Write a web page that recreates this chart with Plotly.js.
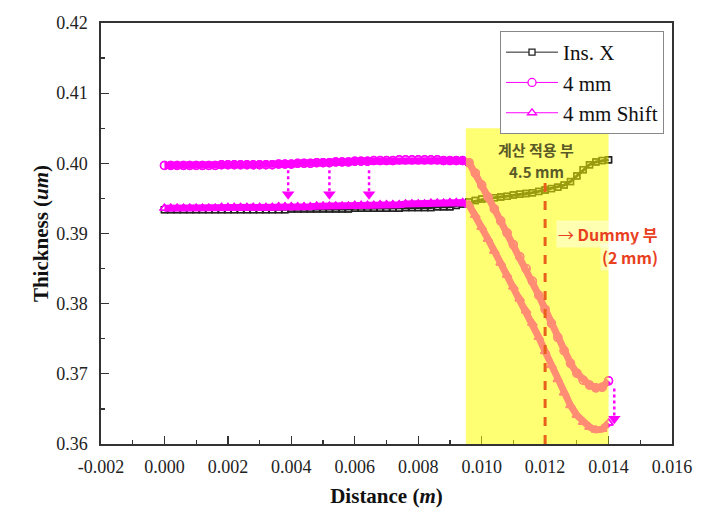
<!DOCTYPE html>
<html>
<head>
<meta charset="utf-8">
<script src="https://cdn.plot.ly/plotly-3.0.1.min.js"></script>
<style>html,body{margin:0;padding:0;background:#fff;}#chart{width:710px;height:517px;}</style>
</head>
<body>
<div id="chart"></div>
<script>
// Distance (m), step 0.0002 from 0 to 0.014
const distance = [
0.0000,0.0002,0.0004,0.0006,0.0008,0.0010,0.0012,0.0014,0.0016,0.0018,
0.0020,0.0022,0.0024,0.0026,0.0028,0.0030,0.0032,0.0034,0.0036,0.0038,
0.0040,0.0042,0.0044,0.0046,0.0048,0.0050,0.0052,0.0054,0.0056,0.0058,
0.0060,0.0062,0.0064,0.0066,0.0068,0.0070,0.0072,0.0074,0.0076,0.0078,
0.0080,0.0082,0.0084,0.0086,0.0088,0.0090,0.0092,0.0094,0.0096,0.0098,
0.0100,0.0102,0.0104,0.0106,0.0108,0.0110,0.0112,0.0114,0.0116,0.0118,
0.0120,0.0122,0.0124,0.0126,0.0128,0.0130,0.0132,0.0134,0.0136,0.0138,
0.0140];

const insX = [
0.3934,0.3934,0.3934,0.3934,0.3934,0.3934,0.3934,0.3934,0.3934,0.3934,
0.3934,0.3934,0.3934,0.3934,0.3934,0.3934,0.3934,0.3934,0.3934,0.3934,
0.3935,0.3935,0.3935,0.3935,0.3935,0.3935,0.3935,0.3935,0.3935,0.3935,
0.3936,0.3936,0.3936,0.3936,0.3936,0.3936,0.3936,0.3936,0.3937,0.3937,
0.3937,0.3937,0.3937,0.3938,0.3938,0.3938,0.3940,0.3942,0.3945,0.3947,
0.3949,0.3950,0.3951,0.3952,0.3953,0.3955,0.3956,0.3957,0.3958,0.3960,
0.3962,0.3964,0.3966,0.3969,0.3974,0.3982,0.3991,0.3998,0.4002,0.4004,
0.4005];

const mm4 = [
0.3997,0.3997,0.3997,0.3997,0.3997,0.3997,0.3997,0.3997,0.3997,0.3998,
0.3998,0.3998,0.3998,0.3998,0.3998,0.3998,0.3998,0.3998,0.3999,0.3999,
0.3999,0.4000,0.4000,0.4000,0.4001,0.4001,0.4001,0.4002,0.4002,0.4002,
0.4003,0.4003,0.4003,0.4004,0.4004,0.4004,0.4004,0.4005,0.4005,0.4005,
0.4005,0.4005,0.4005,0.4005,0.4004,0.4004,0.4004,0.4004,0.4001,0.3986,
0.3969,0.3952,0.3935,0.3918,0.3901,0.3884,0.3867,0.3850,0.3832,0.3812,
0.3792,0.3772,0.3752,0.3733,0.3715,0.3701,0.3691,0.3684,0.3680,0.3681,
0.3690];

const mm4Shift = [
0.3936,0.3936,0.3936,0.3936,0.3936,0.3936,0.3936,0.3936,0.3936,0.3937,
0.3937,0.3937,0.3937,0.3937,0.3937,0.3937,0.3937,0.3937,0.3938,0.3938,
0.3938,0.3938,0.3938,0.3938,0.3939,0.3939,0.3939,0.3939,0.3939,0.3939,
0.3940,0.3940,0.3940,0.3940,0.3941,0.3941,0.3941,0.3941,0.3942,0.3942,
0.3942,0.3942,0.3943,0.3943,0.3943,0.3944,0.3944,0.3944,0.3941,0.3926,
0.3909,0.3892,0.3875,0.3858,0.3841,0.3824,0.3807,0.3790,0.3772,0.3752,
0.3732,0.3712,0.3692,0.3673,0.3655,0.3641,0.3631,0.3624,0.3620,0.3621,
0.3630];

const seriesNames = ["Ins. X", "4 mm", "4 mm Shift"];

// highlighted region and marker line
const regionX = [0.0095, 0.0140];
const regionTop = 0.405;
const dummyX = 0.012;
const dummyTop = 0.3975;

// shift arrows
const arrowX = [0.0039, 0.0052, 0.00645, 0.01418];
const arrowFrom = [0.3990, 0.3990, 0.3990, 0.3679];
const arrowTo = [0.3956, 0.3956, 0.3956, 0.3636];

const xTicks = [-0.002,0.000,0.002,0.004,0.006,0.008,0.010,0.012,0.014,0.016];
const yTicks = [0.36,0.37,0.38,0.39,0.40,0.41,0.42];

const MAG = '#ff00ff';
const traces = [];
function addSeries(y, name, color, bandW, symbol, size){
  // legend entry (thin line, white-filled markers), drawn underneath the band
  traces.push({x: distance, y: y, name: name, mode: 'lines+markers',
    line: {color: color, width: 1},
    marker: {symbol: symbol, size: size, color: '#ffffff', line: {color: color, width: 1.3}}});
  // dense band of overlapping open markers
  traces.push({x: distance, y: y, mode: 'lines+markers', line: {color: color, width: bandW},
    marker: {symbol: symbol + '-open', size: size, color: color, line: {color: color, width: 1.5}},
    showlegend: false, hoverinfo: 'skip'});
}
addSeries(insX, seriesNames[0], '#222222', 3, 'square', 6);
addSeries(mm4, seriesNames[1], MAG, 7, 'circle', 8);
addSeries(mm4Shift, seriesNames[2], MAG, 7, 'triangle-up', 8);

// dotted arrow shafts
const ax = [], ay = [];
arrowX.forEach((v,i)=>{ ax.push(v, v, null); ay.push(arrowFrom[i], arrowTo[i] + 0.0004, null); });
traces.push({x: ax, y: ay, mode: 'lines', line: {color: MAG, width: 2.5, dash: 'dot'},
  showlegend: false, hoverinfo: 'skip'});
traces.push({x: arrowX, y: arrowTo, mode: 'markers',
  marker: {symbol: 'triangle-down', size: 11, color: MAG},
  showlegend: false, hoverinfo: 'skip'});

const serif = 'Liberation Serif';
const kr = 'Noto Sans CJK KR';

const layout = {
  width: 710, height: 517,
  margin: {l: 101, r: 38, t: 23, b: 73},
  paper_bgcolor: '#ffffff', plot_bgcolor: '#ffffff',
  font: {family: serif, size: 18, color: '#222'},
  xaxis: {
    range: [-0.002, 0.016], tickvals: xTicks, ticktext: xTicks.map(v=>v.toFixed(3)),
    ticks: 'inside', ticklen: 8, tickwidth: 1.3, tickcolor: '#333',
    minor: {ticks: 'inside', ticklen: 4, dtick: 0.001, tick0: 0, tickcolor: '#333', tickwidth: 1.3},
    showline: true, linecolor: '#333', linewidth: 1.6, mirror: true,
    showgrid: false, zeroline: false, ticklabelstandoff: 6,
    tickfont: {family: serif, size: 18, color: '#222'},
    title: {text: '<b>Distance (<i>m</i>)</b>', font: {family: serif, size: 21, color: '#111'}, standoff: 12}
  },
  yaxis: {
    range: [0.36, 0.42], tickvals: yTicks, ticktext: yTicks.map(v=>v.toFixed(2)),
    ticks: 'inside', ticklen: 8, tickwidth: 1.3, tickcolor: '#333',
    minor: {ticks: 'inside', ticklen: 4, dtick: 0.005, tick0: 0.36, tickcolor: '#333', tickwidth: 1.3},
    showline: true, linecolor: '#333', linewidth: 1.6, mirror: true,
    showgrid: false, zeroline: false, ticklabelstandoff: 8,
    tickfont: {family: serif, size: 18, color: '#222'},
    title: {text: '<b>Thickness (<i>um</i>)</b>', font: {family: serif, size: 21, color: '#111'}, standoff: 2}
  },
  legend: {
    x: 0.986, y: 0.981, xanchor: 'right', yanchor: 'top',
    bgcolor: '#ffffff', bordercolor: '#888', borderwidth: 1,
    font: {family: serif, size: 21, color: '#111'},
    tracegroupgap: 0, itemwidth: 52
  },
  shapes: [
    {type: 'rect', xref: 'x', yref: 'y', x0: regionX[0], x1: regionX[1], y0: 0.36, y1: regionTop,
     fillcolor: '#ffff00', opacity: 0.55, line: {width: 0}, layer: 'above'},
    {type: 'line', xref: 'x', yref: 'y', x0: dummyX, x1: dummyX, y0: 0.36, y1: dummyTop,
     line: {color: '#e8601c', width: 3, dash: 'dash'}, layer: 'above'}
  ],
  annotations: [
    {x: 0.01172, y: 0.40195, xref: 'x', yref: 'y', text: '<b>계산 적용 부</b>',
     showarrow: false, font: {family: kr, size: 15, color: '#5a5a28'}},
    {x: 0.01172, y: 0.39880, xref: 'x', yref: 'y', text: '<b>4.5 mm</b>',
     showarrow: false, font: {family: kr, size: 15, color: '#5a5a28'}},
    {x: 0.01562, y: 0.3900, xref: 'x', yref: 'y', xanchor: 'right', align: 'right',
     text: '→ <b>Dummy 부</b>', showarrow: false,
     bgcolor: 'rgba(255,255,255,0.45)',
     font: {family: kr, size: 16, color: '#e8401e'}},
    {x: 0.01562, y: 0.3866, xref: 'x', yref: 'y', xanchor: 'right', align: 'right',
     text: '<b>(2 mm)</b>', showarrow: false,
     bgcolor: 'rgba(255,255,255,0.45)',
     font: {family: kr, size: 16, color: '#e8401e'}}
  ]
};

Plotly.newPlot('chart', traces, layout, {displayModeBar: false, staticPlot: true});
</script>
</body>
</html>
